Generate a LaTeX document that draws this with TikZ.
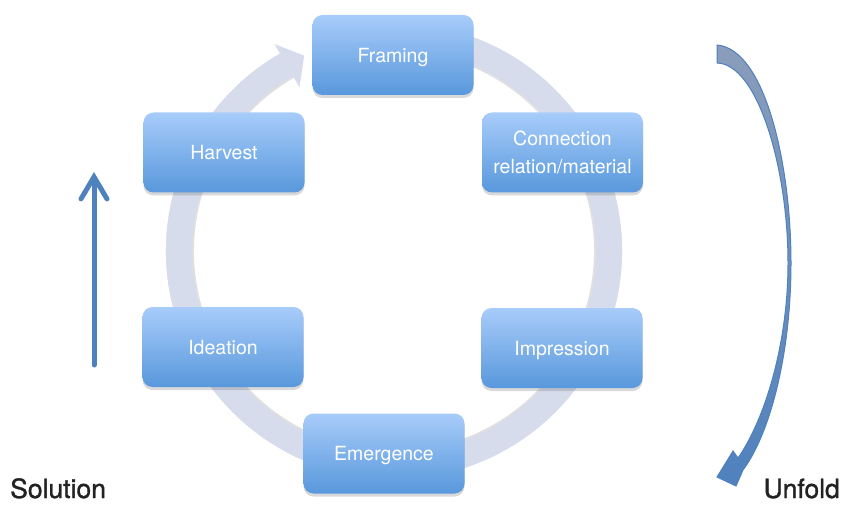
\documentclass[tikz,border=0pt]{standalone}
\usepackage{fontspec}
\setmainfont{TeX Gyre Heros}
\newfontfamily\sidefont[FakeBold=1.2]{TeX Gyre Heros}
\usepackage{tikz}
\usetikzlibrary{shadows,arrows.meta}
\definecolor{boxtop}{RGB}{168,204,250}
\definecolor{boxbot}{RGB}{88,152,220}
\definecolor{ringcol}{RGB}{214,220,236}
\definecolor{arrowblue}{RGB}{79,129,189}
\definecolor{arrowback}{RGB}{138,157,187}
\definecolor{labelcol}{RGB}{34,34,34}

\begin{document}
\begin{tikzpicture}[x=1pt,y=1pt,
phase/.style={rounded corners=10pt, minimum width=161pt, minimum height=80pt,
    top color=boxtop, bottom color=boxbot, draw=none, text=white, align=center,
    text depth=0pt, font=\fontsize{19.5}{28}\selectfont,
    drop shadow={shadow xshift=0pt, shadow yshift=-3pt, opacity=0.25, fill=black!60}},
ring/.style={draw=ringcol, line width=26pt},
side/.style={font=\sidefont\fontsize{26.5}{30}\selectfont, text=labelcol, inner sep=0pt}]
\useasboundingbox (0,0) rectangle (843,504);

\coordinate (c) at (394,253);
\begin{scope}[shift={(c)}]
\draw[black!12, line width=28pt] (119:214) arc (119:455:214);
\draw[ring] (119:215) arc (119:455:215);
\fill[ringcol] (120:239) -- (114.7:215) -- (120:189) -- cycle;
\end{scope}

\node[phase] (framing) at (393,449) {Framing};
\node[phase] (connection) at (562.5,351.5) {Connection\\relation/material};
\node[phase] (impression) at (562,156) {Impression};
\node[phase] (emergence) at (384,50.5) {Emergence};
\node[phase] (ideation) at (223,157) {Ideation};
\node[phase] (harvest) at (224,351.5) {Harvest};

\coordinate (solbot) at (94,139);
\coordinate (soltop) at (94,332);
\draw[arrowblue, line width=5pt, line cap=round,
    -{Straight Barb[length=22pt, width=26pt, line cap=round]}] (solbot) -- (soltop);

\draw[arrowblue, line width=1pt, top color=arrowback, bottom color=arrowblue]
    (717,459) .. controls (765,455) and (791,340) .. (791,241)
    .. controls (791,150) and (770,70) .. (743,34)
    -- (736,18) -- (717,27) -- (733,53) -- (738,46)
    .. controls (765,85) and (788,160) .. (788,241)
    .. controls (788,335) and (758,440) .. (717,441) -- cycle;

\node[side, anchor=base west] (solution) at (10,6) {Solution};
\node[side, anchor=base east] (unfold) at (840,6) {Unfold};
\end{tikzpicture}
\end{document}
